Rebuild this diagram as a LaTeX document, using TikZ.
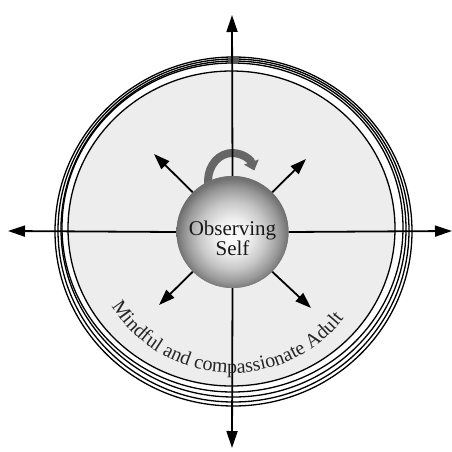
\documentclass[tikz,border=0pt]{standalone}
\usepackage{fontspec}
\setmainfont{Liberation Serif}
\usetikzlibrary{arrows.meta,decorations.text}

\pgfdeclareradialshading{sphereshade}{\pgfpoint{0bp}{-2bp}}{%
  color(0bp)=(white); color(8bp)=(black!7); color(15bp)=(black!22);
  color(21bp)=(black!40); color(25bp)=(black!56); color(50bp)=(black!56)}
\newcommand{\selffont}{\fontsize{21}{20}\selectfont}
\newcommand{\ringfont}{\fontsize{20}{20}\selectfont}

\begin{document}
\begin{tikzpicture}[x=1pt,y=1pt,
  ring/.style={draw=black, line width=1.3pt},
  innerring/.style={draw=black, line width=1.3pt, fill=black!7},
  axisarrow/.style={line width=1.8pt, -{Triangle[length=17pt,width=11pt]}},
  rayarrow/.style={line width=1.8pt, -{Triangle[length=16pt,width=11pt]}},
  sphere/.style={circle, minimum size=112pt, inner sep=0pt, shading=sphereshade},
  selflabel/.style={align=center, font=\selffont, text=black!90, inner sep=0pt},
  turnarrow/.style={line width=8pt, draw=black!60,
    -{Triangle[length=9pt,width=15pt]}}
]
\useasboundingbox (-232,-220) rectangle (220,231);
% rings of the adult self
\path[innerring] (-0.5,2.5) ellipse [x radius=163.5, y radius=157.5];
\draw[ring] (1.5,-0.5) ellipse [x radius=178.5, y radius=174.5];
\draw[ring] (1.5,0.5) ellipse [x radius=175.5, y radius=171.5];
\draw[ring] (1.5,2) ellipse [x radius=172.5, y radius=168];
\draw[ring] (0.5,3.5) ellipse [x radius=170.5, y radius=164.5];
% turning arrow over the ball
\draw[turnarrow] (-23.6,45.1) arc [start angle=190, end angle=22,
  x radius=24, y radius=28];
\node[sphere] (self) at (0.5,-1) {};
\coordinate (northtip) at (0,216);
\coordinate (southtip) at (0,-217);
\coordinate (westtip) at (-224,0);
\coordinate (easttip) at (220,0);
\coordinate (nwtip) at (-78,77);
\coordinate (netip) at (74,72);
\coordinate (swtip) at (-73,-74);
\coordinate (setip) at (79,-77);
\draw[axisarrow] (self.north) -- (northtip);
\draw[axisarrow] (self.south) -- (southtip);
\draw[axisarrow] (self.west) -- (westtip);
\draw[axisarrow] (self.east) -- (easttip);
\draw[rayarrow] (self.135) -- (nwtip);
\draw[rayarrow] (self.45) -- (netip);
\draw[rayarrow] (self.225) -- (swtip);
\draw[rayarrow] (self.-45) -- (setip);
\node[sphere] (ball) at (self.center) {};
\node[selflabel] (selftext) at ([yshift=-6pt]self.center) {Observing\\Self};
% caption bent along the lower rim
\path[decorate, decoration={text along path, text align=center,
  text color=black!85, text={|\ringfont|Mindful and compassionate Adult}}]
  (200:142) arc [start angle=200, end angle=334, radius=142];
\end{tikzpicture}
\end{document}
